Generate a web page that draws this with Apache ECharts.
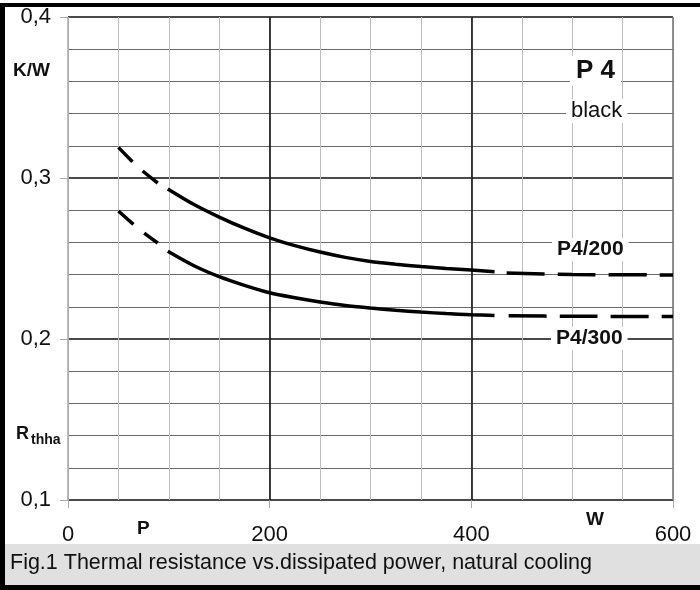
<!DOCTYPE html>
<html>
<head>
<meta charset="utf-8">
<script src="https://cdn.jsdelivr.net/npm/echarts@6/dist/echarts.min.js"></script>
<style>
html,body{margin:0;padding:0;background:#fff;}
#c{width:700px;height:590px;}
</style>
</head>
<body>
<div id="c"></div>
<script>
// ---- data ----
var upperEarly = [[50, 0.319], [70, 0.3065], [89, 0.2969]];
var upperSolid = [[99, 0.2932], [125, 0.2835], [150, 0.2757], [175, 0.2688], [200, 0.2628], [225, 0.2580], [250, 0.2540], [275, 0.2507], [300, 0.2482], [325, 0.2465], [350, 0.2450], [375, 0.2438], [400, 0.2428], [423, 0.2418]];
var upperLate = [[435, 0.2410], [500, 0.2401], [600, 0.2398]];

var lowerEarly = [[50, 0.2795], [70, 0.2685], [89, 0.2596]];
var lowerSolid = [[99, 0.2545], [125, 0.2455], [150, 0.2387], [175, 0.2333], [200, 0.2287], [225, 0.2256], [250, 0.2230], [275, 0.2208], [300, 0.2192], [325, 0.2178], [350, 0.2167], [375, 0.2158], [400, 0.2151], [423, 0.2146]];
var lowerLate = [[437, 0.2144], [500, 0.2141], [600, 0.2140]];

var xTicks = [0, 200, 400, 600];
var yTicks = ['0,1', '0,2', '0,3', '0,4'];
var seriesNames = ['P4/200', 'P4/300'];
var captionText = 'Fig.1 Thermal resistance vs.dissipated power, natural cooling';

var FONT = '"Liberation Sans", Arial, sans-serif';
var chart = echarts.init(document.getElementById('c'));

function lineSeries(name, data, dash) {
  return {
    name: name, type: 'line', data: data, xAxisIndex: 0, yAxisIndex: 0,
    showSymbol: false, smooth: 0.3, z: 5, silent: true,
    lineStyle: { color: '#000', width: 3.5, type: dash || 'solid', cap: 'butt' }
  };
}

var option = {
  animation: false,
  backgroundColor: '#fff',
  grid: { left: 68, right: 27, top: 17, bottom: 90, containLabel: false },
  xAxis: [
    { type: 'value', position: 'bottom', min: 0, max: 600, interval: 50,
      axisLine: { show: false }, axisTick: { show: false }, axisLabel: { show: false },
      splitLine: { show: true, lineStyle: { color: '#bdbdbd', width: 1 } } },
    { type: 'value', position: 'bottom', min: 0, max: 600, interval: 200,
      axisLine: { show: false },
      axisTick: { show: true, length: 8, lineStyle: { color: '#aaa', width: 1 } },
      axisLabel: { show: true, margin: 24, fontSize: 22, color: '#111', fontFamily: FONT,
        formatter: function (v) { return xTicks.indexOf(v) >= 0 ? String(v) : ''; } },
      splitLine: { show: true, lineStyle: { color: ['#aaa', '#111', '#111', '#777'], width: 1.6 } } }
  ],
  yAxis: [
    { type: 'value', position: 'left', min: 0.1, max: 0.4, interval: 0.02,
      axisLine: { show: false }, axisTick: { show: false }, axisLabel: { show: false },
      splitLine: { show: true, lineStyle: { color: '#6a6a6a', width: 1 } } },
    { type: 'value', position: 'left', min: 0.1, max: 0.4, interval: 0.1,
      axisLine: { show: false },
      axisTick: { show: true, length: 8, lineStyle: { color: '#aaa', width: 1 } },
      axisLabel: { show: true, margin: 17, fontSize: 22, color: '#111', fontFamily: FONT,
        formatter: function (v) { var i = Math.round(v * 10) - 1; return yTicks[i] || ''; } },
      splitLine: { show: true, lineStyle: { color: '#4a4a4a', width: 2 } } }
  ],
  series: [
    lineSeries(seriesNames[0], upperEarly, [20, 14]),
    lineSeries(seriesNames[0], upperSolid),
    lineSeries(seriesNames[0], upperLate, [38, 13]),
    lineSeries(seriesNames[1], lowerEarly, [20, 14]),
    lineSeries(seriesNames[1], lowerSolid),
    lineSeries(seriesNames[1], lowerLate, [38, 13])
  ],
  graphic: [
    // frame
    { type: 'rect', z: 50, shape: { x: 0, y: 3, width: 700, height: 4 }, style: { fill: '#000' } },
    { type: 'rect', z: 50, shape: { x: 0, y: 3, width: 5, height: 586 }, style: { fill: '#000' } },
    { type: 'rect', z: 50, shape: { x: 0, y: 585, width: 700, height: 5 }, style: { fill: '#000' } },
    // caption box
    { type: 'rect', z: 40, shape: { x: 5, y: 544, width: 695, height: 41 }, style: { fill: '#e0e0e0' } },
    { type: 'text', z: 45, left: 10, top: 552, style: { text: captionText, font: '21.5px ' + FONT, fill: '#111' } },
    // axis titles
    { type: 'text', z: 45, left: 13, top: 61, style: { text: 'K/W', font: 'bold 19px ' + FONT, fill: '#111' } },
    { type: 'text', z: 45, left: 16, top: 425, style: { text: 'R', font: 'bold 18px ' + FONT, fill: '#111' } },
    { type: 'text', z: 45, left: 31, top: 433, style: { text: 'thha', font: 'bold 14px ' + FONT, fill: '#111' } },
    { type: 'text', z: 45, left: 137, top: 519, style: { text: 'P', font: 'bold 19px ' + FONT, fill: '#111' } },
    { type: 'text', z: 45, left: 586, top: 510, style: { text: 'W', font: 'bold 19px ' + FONT, fill: '#111' } },
    // annotations
    { type: 'text', z: 45, left: 570, top: 56, style: { text: 'P 4', font: 'bold 26px ' + FONT, fill: '#111',
        backgroundColor: '#fff', padding: [2, 6, 2, 6] } },
    { type: 'text', z: 45, left: 566, top: 99, style: { text: 'black', font: '22px ' + FONT, fill: '#111',
        backgroundColor: '#fff', padding: [1, 5, 1, 5] } },
    { type: 'text', z: 45, left: 552, top: 238, style: { text: seriesNames[0], font: 'bold 21px ' + FONT, fill: '#111',
        backgroundColor: '#fff', padding: [1, 5, 1, 5] } },
    { type: 'text', z: 45, left: 551, top: 327, style: { text: seriesNames[1], font: 'bold 21px ' + FONT, fill: '#111',
        backgroundColor: '#fff', padding: [1, 5, 1, 5] } }
  ]
};
chart.setOption(option);
</script>
</body>
</html>
